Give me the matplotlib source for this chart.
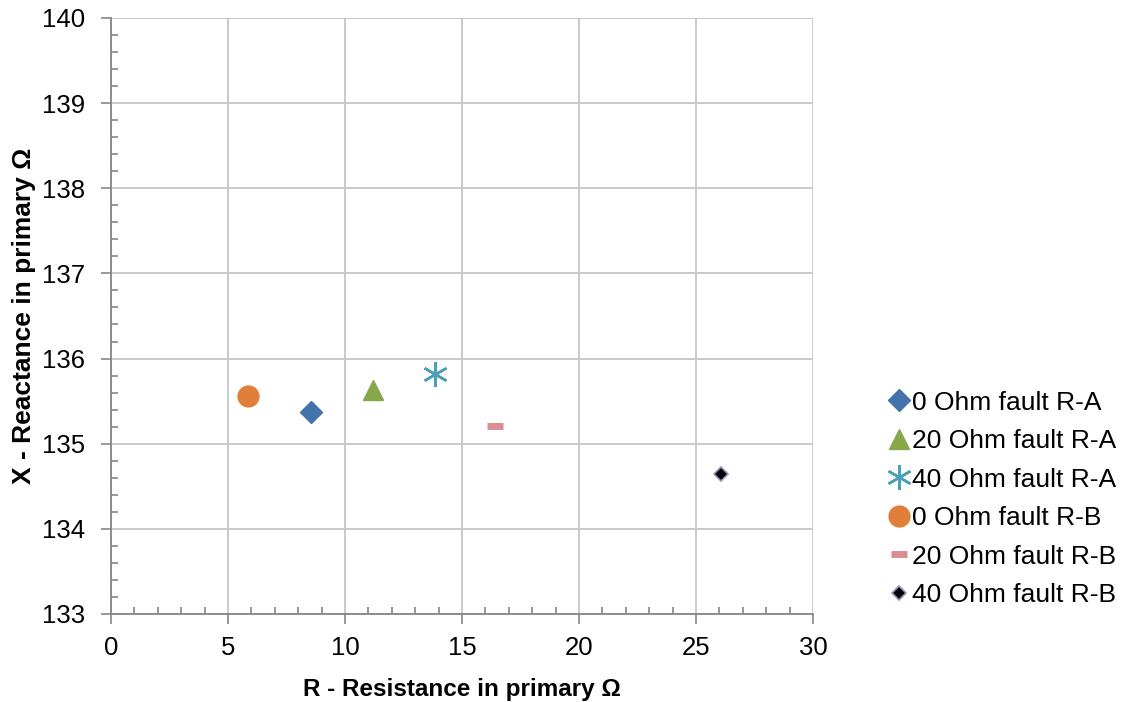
import numpy as np
import matplotlib.pyplot as plt
from matplotlib.ticker import MultipleLocator

plt.rcParams['font.family'] = ['Liberation Sans', 'DejaVu Sans']

labels = ['0 Ohm fault R-A', '20 Ohm fault R-A', '40 Ohm fault R-A',
          '0 Ohm fault R-B', '20 Ohm fault R-B', '40 Ohm fault R-B']
r_vals = [8.55, 11.2, 13.85, 5.85, 16.4, 26.05]
x_vals = [135.37, 135.63, 135.82, 135.56, 135.21, 134.64]

styles = [
    dict(marker='D', color='#4472AC', markersize=11, mec='#4472AC'),
    dict(marker='^', color='#87A74B', markersize=15, mec='#87A74B'),
    dict(marker=(6, 2, 0), color='#4BA0B8', markersize=18, mec='#4BA0B8', mew=1.8),
    dict(marker='o', color='#E07F3A', markersize=15, mec='#E07F3A'),
    dict(marker='_', color='#D88E92', markersize=11, mec='#D88E92', mew=5),
    dict(marker='D', color='black', markersize=7, mec='#9F8CC0', mew=1.2),
]

fig = plt.figure(figsize=(11.24, 7.02), dpi=100)
ax = fig.add_axes([0.0988, 0.1254, 0.6245, 0.849])

for r, x, lab, st in zip(r_vals, x_vals, labels, styles):
    ax.plot(r, x, linestyle='none', label=lab, **st)

ax.set_xlim(0, 30)
ax.set_ylim(133, 140)
ax.xaxis.set_major_locator(MultipleLocator(5))
ax.xaxis.set_minor_locator(MultipleLocator(1))
ax.yaxis.set_major_locator(MultipleLocator(1))
ax.yaxis.set_minor_locator(MultipleLocator(0.2))
ax.grid(True, which='major', color='#C6C6C6', linewidth=1.3)
ax.set_axisbelow(True)
for s in ['top', 'right']:
    ax.spines[s].set_visible(False)
for s in ['left', 'bottom']:
    ax.spines[s].set_color('#868686')
    ax.spines[s].set_linewidth(1.3)
ax.tick_params(which='both', color='#868686', labelsize=18.5, width=1.2)
ax.tick_params(which='major', direction='out', length=7)
ax.tick_params(which='minor', direction='in', length=5)
ax.tick_params(axis='x', pad=9)
ax.tick_params(axis='y', pad=12)

ax.set_xlabel('R - Resistance in primary Ω', fontsize=17.5, fontweight='bold', labelpad=13)
ax.set_ylabel('X - Reactance in primary Ω', fontsize=19, fontweight='bold', labelpad=4)

ax.legend(loc='center left', bbox_to_anchor=(1.089, 0.193), frameon=False, fontsize=19,
          handletextpad=0.0, labelspacing=0.55, handlelength=1.0, borderaxespad=0)

fig.savefig('out.png', dpi=100)
